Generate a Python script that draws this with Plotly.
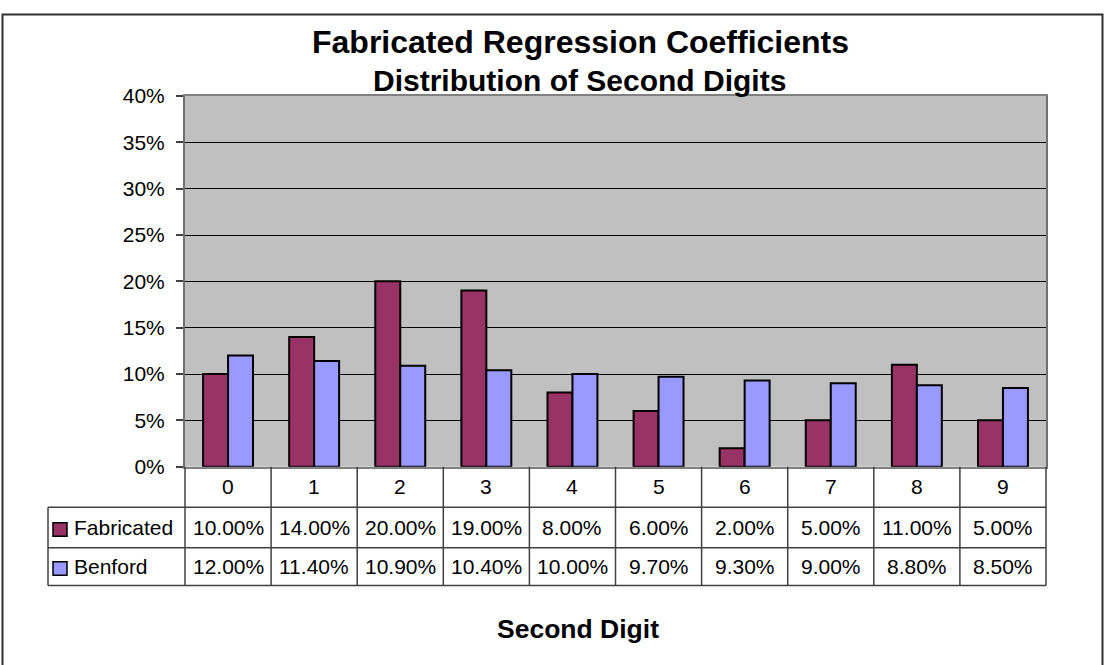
import plotly.graph_objects as go

digits = ["0", "1", "2", "3", "4", "5", "6", "7", "8", "9"]
fabricated = [10.0, 14.0, 20.0, 19.0, 8.0, 6.0, 2.0, 5.0, 11.0, 5.0]
benford = [12.0, 11.4, 10.9, 10.4, 10.0, 9.7, 9.3, 9.0, 8.8, 8.5]
series_names = ["Fabricated", "Benford"]
colors = ["#993366", "#9999FF"]

W, H = 1104, 665
def px(x):
    return x / W
def py(y):
    return 1 - y / H

X0, X1 = 185, 1046
Y0, Y1 = 87, 471
FONT = "Liberation Sans, Arial, sans-serif"

fig = go.Figure()
for name, vals, col in zip(series_names, [fabricated, benford], colors):
    fig.add_trace(go.Bar(
        x=digits, y=vals, name=name,
        marker=dict(color=col, line=dict(color="black", width=2)),
        showlegend=False, hoverinfo="skip",
    ))

shapes = []
annotations = []
line_col = "#404040"
row_tops = [471, 513, 555, 594]
colw = (X1 - X0) / len(digits)
for yy in row_tops[1:]:
    shapes.append(dict(type="line", xref="paper", yref="paper", x0=px(48), x1=px(X1), y0=py(yy), y1=py(yy),
                       line=dict(color=line_col, width=1.5)))
shapes.append(dict(type="line", xref="paper", yref="paper", x0=px(48), x1=px(48), y0=py(row_tops[1]), y1=py(row_tops[3]),
                   line=dict(color=line_col, width=1.5)))
for i in range(len(digits) + 1):
    xx = X0 + i * colw
    shapes.append(dict(type="line", xref="paper", yref="paper", x0=px(xx), x1=px(xx), y0=py(row_tops[0]), y1=py(row_tops[3]),
                       line=dict(color=line_col, width=1.5)))

for i, d in enumerate(digits):
    cx = X0 + (i + 0.5) * colw
    annotations.append(dict(x=px(cx), y=py(492), xref="paper", yref="paper", text=d, showarrow=False,
                            font=dict(family=FONT, size=21, color="black"), xanchor="center", yanchor="middle"))
for r, (name, vals, col) in enumerate(zip(series_names, [fabricated, benford], colors)):
    cy = (row_tops[r + 1] + row_tops[r + 2]) / 2
    shapes.append(dict(type="rect", xref="paper", yref="paper", x0=px(53), x1=px(67), y0=py(cy - 5), y1=py(cy + 9),
                       fillcolor=col, line=dict(color="black", width=1.5)))
    annotations.append(dict(x=px(72), y=py(cy), xref="paper", yref="paper", text=name, showarrow=False,
                            font=dict(family=FONT, size=21, color="black"), xanchor="left", yanchor="middle"))
    for i, v in enumerate(vals):
        cx = X0 + (i + 0.5) * colw
        annotations.append(dict(x=px(cx), y=py(cy), xref="paper", yref="paper", text=f"{v:.2f}%", showarrow=False,
                                font=dict(family=FONT, size=21, color="black"), xanchor="center", yanchor="middle"))

annotations.append(dict(x=px(580), y=py(31), xref="paper", yref="paper", text="<b>Fabricated Regression Coefficients</b>",
                        showarrow=False, font=dict(family=FONT, size=32, color="black"), xanchor="center", yanchor="middle"))
annotations.append(dict(x=px(579), y=py(71), xref="paper", yref="paper", text="<b>Distribution of Second Digits</b>",
                        showarrow=False, font=dict(family=FONT, size=30, color="black"), xanchor="center", yanchor="middle"))
annotations.append(dict(x=px(578), y=py(639), xref="paper", yref="paper", text="<b>Second Digit</b>",
                        showarrow=False, font=dict(family=FONT, size=26.5, color="black"), xanchor="center", yanchor="middle"))

shapes.append(dict(type="rect", xref="paper", yref="paper", x0=px(2.5), x1=px(1102.5), y0=py(2.5), y1=py(680),
                   line=dict(color="#303030", width=2), fillcolor="rgba(0,0,0,0)"))

fig.update_layout(
    width=W, height=H,
    margin=dict(l=0, r=0, t=0, b=0),
    paper_bgcolor="white",
    plot_bgcolor="#C0C0C0",
    barmode="group",
    bargap=0.42,
    bargroupgap=0,
    shapes=shapes,
    annotations=annotations,
    hovermode=False,
    xaxis=dict(domain=[px(X0), px(X1)], showticklabels=False, showgrid=False, ticks="",
               showline=True, linecolor="#808080", linewidth=2, mirror=True, fixedrange=True),
    yaxis=dict(domain=[py(Y1), py(Y0)], range=[0, 40], dtick=5, ticksuffix="%",
               showgrid=True, gridcolor="black", gridwidth=1,
               ticks="outside", ticklen=7, tickcolor="#404040", tickwidth=1.5, ticklabelstandoff=7,
               showline=True, linecolor="#707070", linewidth=2, mirror=True, fixedrange=True,
               tickfont=dict(family=FONT, size=21, color="black"), zeroline=False),
)

post = ("document.documentElement.style.overflow='hidden';"
        "document.body.style.margin='0';document.body.style.overflow='hidden';"
        "var d=document.getElementById('{plot_id}');d.style.position='fixed';d.style.top='0';d.style.left='0';")
fig.write_html("out.html", config={"displayModeBar": False}, post_script=post)
